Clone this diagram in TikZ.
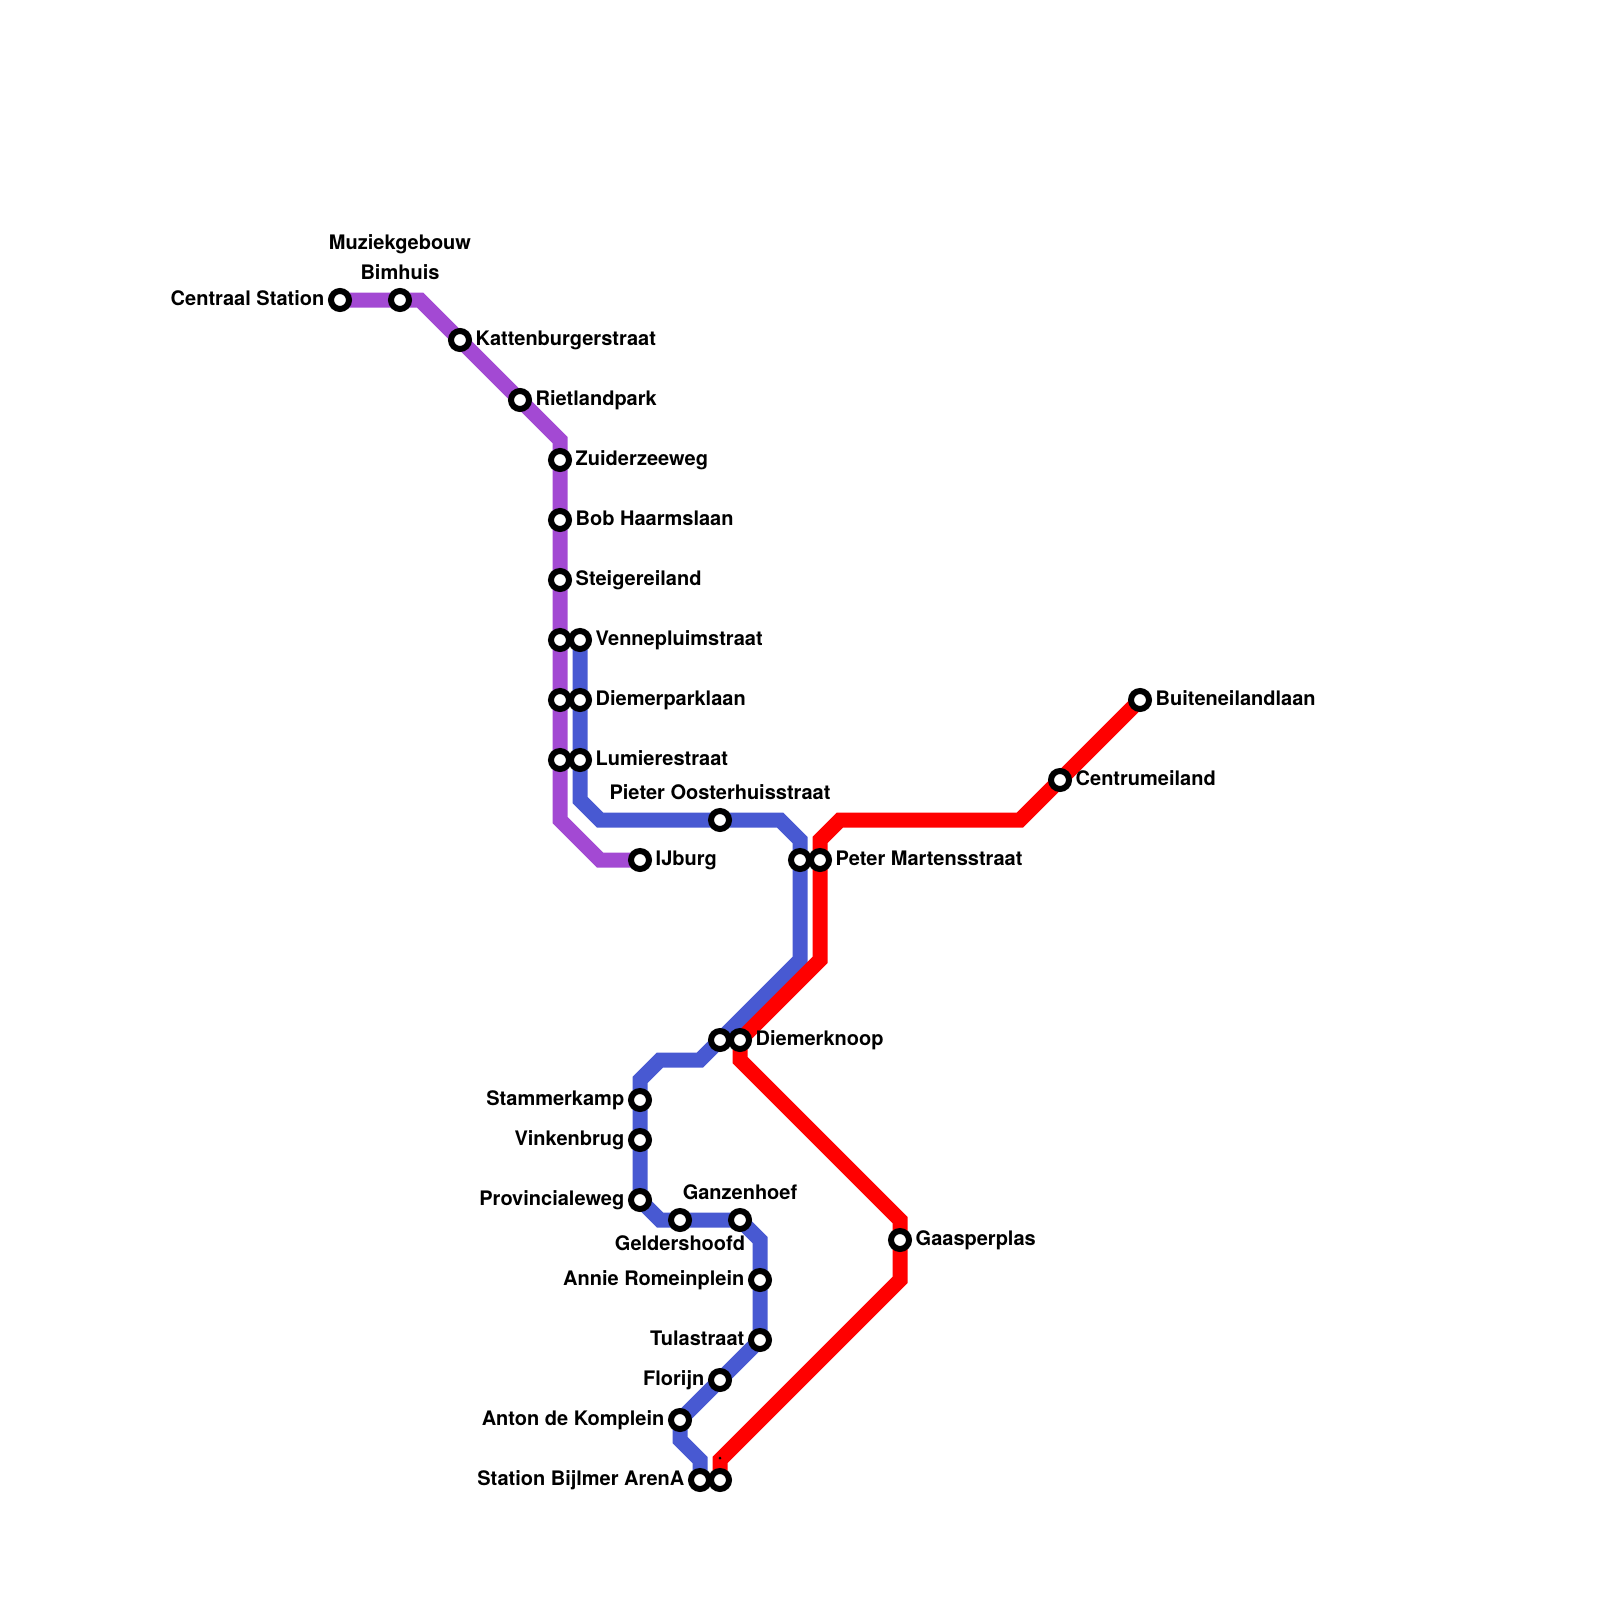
\documentclass[tikz,border=0pt]{standalone}
\usepackage{xcolor}
\usepackage{fontspec}
\setmainfont{TeX Gyre Heros}
\usepackage{tikz}
\usetikzlibrary{positioning, backgrounds}
\definecolor{metropurple}{HTML}{A349D3}
\definecolor{metroblue}{HTML}{4859D2}
\definecolor{metrored}{HTML}{FF0000}
\tikzset{
    stn/.style={circle, draw=black, fill=white, line width=6pt, minimum size=18pt, inner sep=0pt},
    lbl/.style={font=\fontsize{20}{30}\selectfont\bfseries, inner sep=0pt, align=center},
    lblside/.style={lbl, text height=14pt, text depth=3pt},
    metroline/.style={line width=15pt, line join=miter},
}

\begin{document}
\begin{tikzpicture}[x=1pt, y=-1pt]
    \useasboundingbox (0,0) rectangle (1600,1600);

    % Purple stations
    \node[stn] (cs) at (340,300) {};
    \node[stn] (bim) at (400,300) {};
    \node[stn] (kat) at (460,340) {};
    \node[stn] (riet) at (520,400) {};
    \node[stn] (zuid) at (560,460) {};
    \node[stn] (bob) at (560,520) {};
    \node[stn] (steig) at (560,580) {};
    \node[stn] (venp) at (560,640) {};
    \node[stn] (diemp) at (560,700) {};
    \node[stn] (lump) at (560,760) {};
    \node[stn] (ijb) at (640,860) {};

    % Blue stations
    \node[stn] (venb) at (580,640) {};
    \node[stn] (diemb) at (580,700) {};
    \node[stn] (lumb) at (580,760) {};
    \node[stn] (piet) at (720,820) {};
    \node[stn] (petb) at (800,860) {};
    \node[stn] (knob) at (720,1040) {};
    \node[stn] (stam) at (640,1100) {};
    \node[stn] (vink) at (640,1140) {};
    \node[stn] (prov) at (640,1200) {};
    \node[stn] (geld) at (680,1220) {};
    \node[stn] (ganz) at (740,1220) {};
    \node[stn] (annie) at (760,1280) {};
    \node[stn] (tula) at (760,1340) {};
    \node[stn] (flor) at (720,1380) {};
    \node[stn] (anton) at (680,1420) {};
    \node[stn] (bijb) at (700,1480) {};

    % Red stations
    \node[stn] (buit) at (1140,700) {};
    \node[stn] (centr) at (1060,780) {};
    \node[stn] (petr) at (820,860) {};
    \node[stn] (knor) at (740,1040) {};
    \node[stn] (gaas) at (900,1240) {};
    \node[stn] (bijr) at (720,1480) {};

    % Bends
    \coordinate (pa) at (420,300); \coordinate (pb) at (560,440);
    \coordinate (pc) at (560,820); \coordinate (pd) at (600,860);
    \coordinate (ba) at (580,800); \coordinate (bb) at (600,820);
    \coordinate (bc) at (780,820); \coordinate (bd) at (800,840);
    \coordinate (be) at (800,960); \coordinate (bf) at (700,1060);
    \coordinate (bg) at (660,1060); \coordinate (bh) at (640,1080);
    \coordinate (bi) at (660,1220); \coordinate (bj) at (760,1240);
    \coordinate (bk) at (680,1440); \coordinate (bl) at (700,1460);
    \coordinate (ra) at (1020,820); \coordinate (rb) at (840,820);
    \coordinate (rc) at (820,840); \coordinate (rd) at (820,960);
    \coordinate (re) at (740,1060); \coordinate (rf) at (900,1220);
    \coordinate (rg) at (900,1280); \coordinate (rh) at (720,1460);

    % Lines
    \begin{scope}[on background layer]
        \draw[metroline, metropurple] (cs.center) -- (bim.center) -- (pa) -- (kat.center) -- (riet.center) -- (pb) -- (zuid.center) -- (bob.center) -- (steig.center) -- (venp.center) -- (diemp.center) -- (lump.center) -- (pc) -- (pd) -- (ijb.center);
        \draw[metroline, metroblue] (venb.center) -- (diemb.center) -- (lumb.center) -- (ba) -- (bb) -- (piet.center) -- (bc) -- (bd) -- (petb.center) -- (be) -- (knob.center) -- (bf) -- (bg) -- (bh) -- (stam.center) -- (vink.center) -- (prov.center) -- (bi) -- (geld.center) -- (ganz.center) -- (bj) -- (annie.center) -- (tula.center) -- (flor.center) -- (anton.center) -- (bk) -- (bl) -- (bijb.center);
        \draw[metroline, metrored] (buit.center) -- (centr.center) -- (ra) -- (rb) -- (rc) -- (petr.center) -- (rd) -- (knor.center) -- (re) -- (rf) -- (gaas.center) -- (rg) -- (rh) -- (bijr.center);
    \end{scope}
    \node[circle, fill=black, inner sep=0pt, minimum size=3pt] (speck) at (720,1458) {};

    % Labels
    \node[lblside, left=3.5pt of cs] (cslbl) {Centraal Station};
    \node[lbl, above=8pt of bim] (bimlbl) {Muziekgebouw\\Bimhuis};
    \node[lblside, right=3.5pt of kat] (katlbl) {Kattenburgerstraat};
    \node[lblside, right=3.5pt of riet] (rietlbl) {Rietlandpark};
    \node[lblside, right=3.5pt of zuid] (zuidlbl) {Zuiderzeeweg};
    \node[lblside, right=3.5pt of bob] (boblbl) {Bob Haarmslaan};
    \node[lblside, right=3.5pt of steig] (steiglbl) {Steigereiland};
    \node[lblside, right=3.5pt of venb] (venlbl) {Vennepluimstraat};
    \node[lblside, right=3.5pt of diemb] (diemlbl) {Diemerparklaan};
    \node[lblside, right=3.5pt of lumb] (lumlbl) {Lumierestraat};
    \node[lbl, above=8pt of piet] (pietlbl) {Pieter Oosterhuisstraat};
    \node[lblside, right=3.5pt of ijb] (ijblbl) {IJburg};
    \node[lblside, right=3.5pt of petr] (petlbl) {Peter Martensstraat};
    \node[lblside, right=3.5pt of centr] (centrlbl) {Centrumeiland};
    \node[lblside, right=3.5pt of buit] (buitlbl) {Buiteneilandlaan};
    \node[lblside, right=3.5pt of knor] (knolbl) {Diemerknoop};
    \node[lblside, right=3.5pt of gaas] (gaaslbl) {Gaasperplas};
    \node[lblside, left=3.5pt of stam] (stamlbl) {Stammerkamp};
    \node[lblside, left=3.5pt of vink] (vinklbl) {Vinkenbrug};
    \node[lblside, left=3.5pt of prov] (provlbl) {Provincialeweg};
    \node[lbl, above=8pt of ganz] (ganzlbl) {Ganzenhoef};
    \node[lblside, below=4pt of geld] (geldlbl) {Geldershoofd};
    \node[lblside, left=3.5pt of annie] (annielbl) {Annie Romeinplein};
    \node[lblside, left=3.5pt of tula] (tulalbl) {Tulastraat};
    \node[lblside, left=3.5pt of flor] (florlbl) {Florijn};
    \node[lblside, left=3.5pt of anton] (antonlbl) {Anton de Komplein};
    \node[lblside, left=3.5pt of bijb] (bijlbl) {Station Bijlmer ArenA};
\end{tikzpicture}
\end{document}
